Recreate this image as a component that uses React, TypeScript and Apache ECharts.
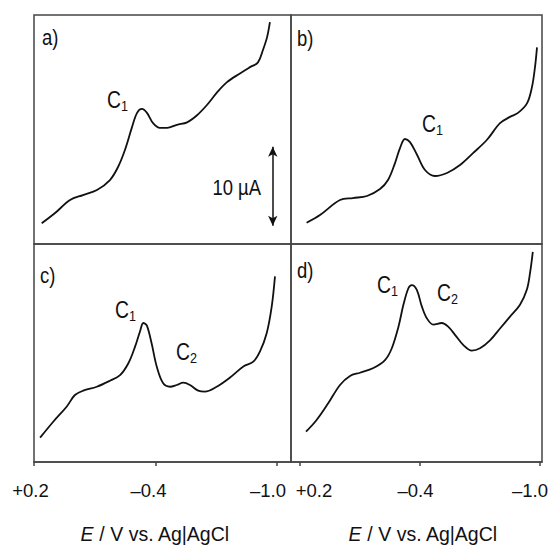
import React, { useEffect, useRef } from "react";
import * as echarts from "echarts";

// ---------- data (E in V vs Ag|AgCl, I in µA, arbitrary offset) ----------
const E_A = [0.162, 0.096, 0.022, -0.042, -0.111, -0.175, -0.215, -0.249, -0.284, -0.309, -0.333, -0.358, -0.388, -0.422, -0.457, -0.506, -0.556, -0.605, -0.654, -0.704, -0.753, -0.817, -0.867, -0.906, -0.931, -0.951, -0.965];
const I_A = [2.62, 3.92, 5.57, 6.2, 6.84, 8.1, 9.75, 11.9, 14.8, 16.6, 17.1, 16.6, 15.3, 14.7, 14.7, 15.1, 15.4, 16.3, 17.6, 19.2, 20.5, 21.6, 22.4, 23.0, 24.6, 26.2, 28.1];

const E_B = [0.167, 0.1, 0.0, -0.065, -0.135, -0.2, -0.24, -0.275, -0.3, -0.325, -0.35, -0.385, -0.425, -0.475, -0.535, -0.6, -0.665, -0.735, -0.8, -0.85, -0.89, -0.935, -0.96, -0.975, -0.985];
const I_B = [2.7, 3.67, 5.57, 5.82, 6.08, 6.96, 8.1, 10.25, 12.15, 13.3, 12.9, 11.3, 9.37, 8.61, 8.99, 10.0, 11.5, 13.2, 15.3, 16.1, 16.6, 17.8, 19.9, 22.4, 24.9];

const E_C = [0.17, 0.105, 0.039, -0.002, -0.043, -0.11, -0.175, -0.225, -0.266, -0.299, -0.323, -0.34, -0.357, -0.381, -0.406, -0.438, -0.472, -0.505, -0.537, -0.57, -0.611, -0.644, -0.702, -0.768, -0.834, -0.883, -0.916, -0.949, -0.974, -0.99];
const I_C = [3.08, 5.1, 7.0, 8.48, 9.03, 9.53, 10.29, 11.0, 12.5, 14.6, 16.5, 17.6, 17.3, 15.0, 12.1, 9.96, 9.53, 9.75, 10.04, 9.75, 9.03, 8.9, 9.53, 10.7, 12.1, 12.7, 14.0, 16.3, 19.7, 23.5];

const E_D = [0.17, 0.117, 0.059, 0.0, -0.05, -0.1, -0.167, -0.225, -0.259, -0.292, -0.317, -0.342, -0.359, -0.384, -0.409, -0.434, -0.467, -0.509, -0.542, -0.575, -0.617, -0.659, -0.7, -0.75, -0.8, -0.85, -0.9, -0.934, -0.95, -0.964];
const I_D = [3.84, 5.32, 7.43, 9.75, 10.9, 11.3, 11.9, 12.9, 14.4, 17.1, 19.9, 22.0, 22.4, 21.8, 19.7, 18.2, 17.4, 17.6, 17.1, 16.1, 14.8, 14.1, 14.4, 15.4, 16.9, 18.4, 19.9, 21.8, 23.9, 26.6];

const TICK_VALUES = [0.2, -0.4, -1.0];
const TICK_LABELS = ["+0.2", "\u20130.4", "\u20131.0"];
const AXIS_TITLE = "{i|E} / V vs. Ag|AgCl";
const PANEL_LABELS = ["a)", "b)", "c)", "d)"];
const PEAK_LABELS = [
  { panel: "a", name: "C", sub: "1" },
  { panel: "b", name: "C", sub: "1" },
  { panel: "c", name: "C", sub: "1" },
  { panel: "c", name: "C", sub: "2" },
  { panel: "d", name: "C", sub: "1" },
  { panel: "d", name: "C", sub: "2" },
];
const SCALE_BAR = { e: -0.979, i0: 2.3, length: 10, label: "10 \u00b5A" };

const FONT = "'Liberation Sans', Arial, sans-serif";
const INK = "#111";
const FRAME = "#444";
const NARROW = 0.84;

const zip = (e: number[], i: number[]) => e.map((v, k) => [v, i[k]]);

export default function App() {
  const ref = useRef<HTMLDivElement>(null);
  useEffect(() => {
    if (!ref.current) return;
    const chart = echarts.init(ref.current, null, { renderer: "svg" });

    const grids = [
      { left: 34, top: 15, width: 257, height: 229 },
      { left: 291, top: 15, width: 251, height: 229 },
      { left: 34, top: 244, width: 257, height: 218 },
      { left: 291, top: 244, width: 251, height: 218 },
    ].map((g) => ({
      ...g,
      show: true,
      containLabel: false,
      outerBoundsMode: "none",
      borderColor: FRAME,
      borderWidth: 1.5,
      backgroundColor: "transparent",
    }));

    const ranges = [
      { min: -1.0691, max: 0.2 },
      { min: -1.01, max: 0.245 },
      { min: -1.0691, max: 0.2 },
      { min: -1.01, max: 0.245 },
    ];

    const labelFormatter = (right: boolean) => (v: number) => {
      const k = TICK_VALUES.findIndex((t) => Math.abs(t - v) < 1e-6);
      if (k < 0) return "";
      if (k === 0) return right ? `{r|${TICK_LABELS[k]}}` : `{p|${TICK_LABELS[k]}}`;
      if (k === 2) return `{e|${TICK_LABELS[k]}}`;
      return `{d|${TICK_LABELS[k]}}`;
    };

    const TICK_FS = 18.5;
    const tickRich = (pad: number[]) => ({ fontFamily: FONT, fontSize: TICK_FS, color: INK, padding: pad });

    const xAxis = ranges.map((r, idx) => {
      const bottom = idx >= 2;
      const right = idx % 2 === 1;
      return {
        type: "value",
        gridIndex: idx,
        inverse: true,
        min: r.min,
        max: r.max,
        splitLine: { show: false },
        axisLine: { show: bottom, lineStyle: { color: FRAME, width: 1.5 } },
        axisTick: {
          show: bottom,
          customValues: TICK_VALUES,
          length: 4,
          lineStyle: { color: FRAME, width: 1.5 },
        },
        axisLabel: {
          show: bottom,
          customValues: TICK_VALUES,
          margin: 19,
          color: INK,
          fontFamily: FONT,
          fontSize: TICK_FS,
          formatter: labelFormatter(right),
          rich: {
            p: tickRich([0, 7, 0, 0]),
            r: tickRich([0, 0, 0, 28]),
            d: tickRich([0, right ? 9 : 14, 0, 0]),
            e: tickRich([0, right ? 20 : 18, 0, 0]),
          },
        },
        name: bottom ? AXIS_TITLE : "",
        nameLocation: "middle",
        nameGap: 62,
        nameTextStyle: {
          fontFamily: FONT,
          fontSize: 19.5,
          color: INK,
          padding: right ? [0, 0, 0, 13] : [0, 15, 0, 0],
          rich: { i: { fontFamily: FONT, fontSize: 19.5, color: INK, fontStyle: "italic" } },
        },
      };
    });

    const yAxis = [0, 1, 2, 3].map((idx) => ({
      type: "value",
      gridIndex: idx,
      min: 0,
      max: idx < 2 ? 29 : 27.6,
      show: false,
    }));

    const curves = [zip(E_A, I_A), zip(E_B, I_B), zip(E_C, I_C), zip(E_D, I_D)];
    const series: any[] = curves.map((data, idx) => ({
      type: "line",
      xAxisIndex: idx,
      yAxisIndex: idx,
      data,
      smooth: 0.35,
      showSymbol: false,
      lineStyle: { color: INK, width: 1.8 },
      ...(idx === 0
        ? {
            markLine: {
              silent: true,
              symbol: ["arrow", "arrow"],
              symbolSize: [7, 10],
              label: { show: false },
              lineStyle: { color: INK, width: 1.5, type: "solid" },
              data: [
                [
                  { coord: [SCALE_BAR.e, SCALE_BAR.i0] },
                  { coord: [SCALE_BAR.e, SCALE_BAR.i0 + SCALE_BAR.length] },
                ],
              ],
            },
          }
        : {}),
    }));

    const txt = (text: string, x: number, y: number, size: number, align = "left", rich?: any) => ({
      type: "text",
      x,
      y,
      scaleX: NARROW,
      silent: true,
      style: { text, fontFamily: FONT, fontSize: size, fill: INK, align, verticalAlign: "middle", rich },
    });

    const peakPos = [
      [107, 100],
      [422, 124],
      [115, 310],
      [176, 352],
      [377, 285],
      [437, 293],
    ];
    const peakRich = {
      c: { fontFamily: FONT, fontSize: 23, lineHeight: 26, fill: INK, color: INK },
      s: { fontFamily: FONT, fontSize: 15, lineHeight: 10, fill: INK, color: INK, verticalAlign: "bottom" },
    };

    const graphic: any[] = [
      txt(PANEL_LABELS[0], 42, 37, 22),
      txt(PANEL_LABELS[1], 297, 38, 22),
      txt(PANEL_LABELS[2], 40, 275, 22),
      txt(PANEL_LABELS[3], 297, 270, 22),
      txt(SCALE_BAR.label, 261, 187, 22, "right"),
      ...PEAK_LABELS.map((p, k) => txt(`{c|${p.name}}{s|${p.sub}}`, peakPos[k][0], peakPos[k][1], 23, "left", peakRich)),
    ];

    chart.setOption({
      animation: false,
      backgroundColor: "#fff",
      grid: grids,
      xAxis,
      yAxis,
      series,
      graphic,
    });
    return () => chart.dispose();
  }, []);
  return <div ref={ref} style={{ position: "fixed", left: 0, top: 0, width: 548, height: 548 }} />;
}
